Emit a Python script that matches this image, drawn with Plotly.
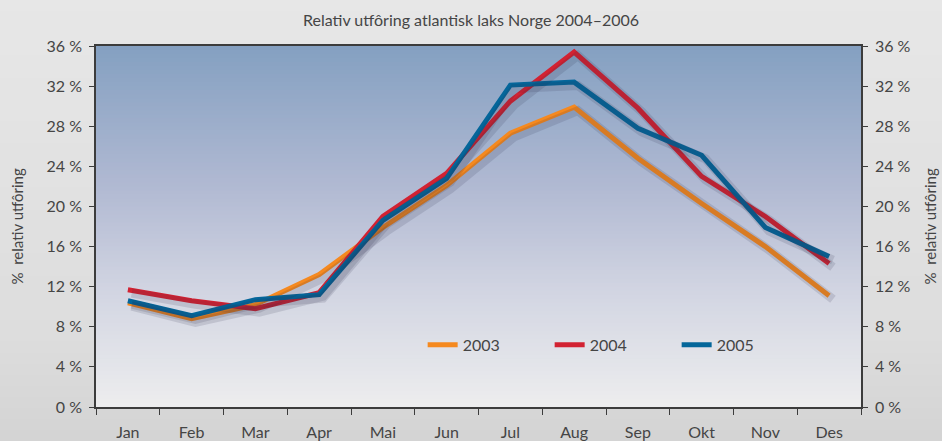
import plotly.graph_objects as go

months = ["Jan", "Feb", "Mar", "Apr", "Mai", "Jun", "Jul", "Aug", "Sep", "Okt", "Nov", "Des"]
y2003 = [10.4, 8.8, 10.2, 13.2, 17.9, 22.1, 27.3, 29.9, 24.8, 20.3, 16.0, 11.1]
y2004 = [11.7, 10.6, 9.8, 11.4, 19.0, 23.3, 30.5, 35.4, 29.8, 23.0, 19.0, 14.3]
y2005 = [10.6, 9.1, 10.7, 11.2, 18.6, 22.8, 32.1, 32.4, 27.8, 25.1, 17.9, 15.0]
series = [("2003", y2003, "#f5891f"), ("2004", y2004, "#d22232"), ("2005", y2005, "#04669a")]
yticks = [0, 4, 8, 12, 16, 20, 24, 28, 32, 36]
ytext = [f"{v} %" for v in yticks]
axis_title = "%  relativ utfôring"

FONT = "Lato"
TXT = "#454545"
AX = "#3c3c3c"

W, H = 942, 441
L, R, T, B = 96, 81, 46, 34
PW, PH = W - L - R, H - T - B

fig = go.Figure()

# soft drop shadows (same data on a slightly shifted hidden axis pair)
for name, vals, col in series:
    fig.add_trace(go.Scatter(x=months, y=vals, mode="lines", xaxis="x3", yaxis="y3",
                             line=dict(color="rgba(40,45,70,0.14)", width=9),
                             showlegend=False, hoverinfo="skip"))
for name, vals, col in series:
    fig.add_trace(go.Scatter(x=months, y=vals, mode="lines", name=name,
                             line=dict(color=col, width=5)))

# make sure the right axis is drawn
fig.add_trace(go.Scatter(x=months, y=y2003, yaxis="y2", mode="lines",
                         line=dict(width=0, color="rgba(0,0,0,0)"), showlegend=False, hoverinfo="skip"))

def lerp(c1, c2, t):
    return tuple(round(a + (b - a) * t) for a, b in zip(c1, c2))

def grad(stops, t):
    for (a, ca), (b, cb) in zip(stops[:-1], stops[1:]):
        if a <= t <= b:
            return lerp(ca, cb, (t - a) / (b - a))
    return stops[-1][1]

shapes = []
# paper gradient
paper_stops = [(0.0, (212, 212, 212)), (0.25, (221, 221, 221)), (1.0, (231, 231, 231))]
NP = 40
y_lo, y_hi = -B / PH, 1 + T / PH
for i in range(NP):
    t0, t1 = i / NP, (i + 1) / NP
    c = grad(paper_stops, (t0 + t1) / 2)
    shapes.append(dict(type="rect", xref="paper", yref="paper", x0=-L / PW, x1=1 + R / PW,
                       y0=y_lo + (y_hi - y_lo) * t0, y1=y_lo + (y_hi - y_lo) * t1 + 0.003,
                       fillcolor="rgb(%d,%d,%d)" % c, line=dict(width=0), layer="below"))

# plot area gradient
plot_stops = [(0.0, (237, 237, 238)), (0.3, (212, 215, 227)), (0.6, (178, 186, 211)), (1.0, (132, 160, 193))]
N = 90
for i in range(N):
    t0, t1 = i / N, (i + 1) / N
    c = grad(plot_stops, (t0 + t1) / 2)
    shapes.append(dict(type="rect", xref="paper", yref="paper", x0=0, x1=1, y0=t0, y1=min(1, t1 + 0.002),
                       fillcolor="rgb(%d,%d,%d)" % c, line=dict(width=0), layer="below"))

fig.update_layout(shapes=shapes)

yax = dict(range=[0, 36], tickmode="array", tickvals=yticks, ticktext=ytext, showgrid=False, zeroline=False,
           showline=True, linecolor=AX, linewidth=1.5, automargin=False,
           ticks="outside", ticklen=5, tickcolor=AX,
           tickfont=dict(family=FONT, size=16, color=TXT), ticklabelstandoff=4)

fig.update_layout(
    width=W, height=H,
    margin=dict(l=L, r=R, t=T, b=B, autoexpand=False),
    paper_bgcolor="#e0e0e0",
    plot_bgcolor="rgba(0,0,0,0)",
    font=dict(family=FONT, size=16, color=TXT),
    title=dict(text="Relativ utfôring atlantisk laks Norge 2004–2006", x=0.5, xanchor="center",
               y=1 - 20 / H, yanchor="middle", font=dict(family=FONT, size=16, color=TXT)),
    xaxis=dict(type="category", range=[-0.5, 11.5], showgrid=False, zeroline=False,
               showline=True, linecolor=AX, linewidth=1.5, mirror=True, automargin=False,
               ticks="outside", ticklen=6, tickcolor=AX, tickson="boundaries",
               tickfont=dict(family=FONT, size=16, color=TXT), ticklabelstandoff=10),
    yaxis=yax,
    yaxis2=dict(yax, overlaying="y", side="right", anchor="x"),
    xaxis3=dict(type="category", range=[-0.56, 11.44], overlaying="x", anchor="y3", visible=False,
                categoryorder="array", categoryarray=months),
    yaxis3=dict(range=[0.35, 36.35], overlaying="y", anchor="x3", visible=False),
    legend=dict(orientation="h", x=0.427, y=0.172, xanchor="left", yanchor="middle",
                bgcolor="rgba(0,0,0,0)", entrywidth=82, entrywidthmode="pixels",
                font=dict(family=FONT, size=16, color=TXT)),
    showlegend=True,
    annotations=[
        dict(text=axis_title, xref="paper", yref="paper", x=(16 - L) / PW, y=0.5, textangle=-90,
             showarrow=False, xanchor="center", yanchor="middle", font=dict(family=FONT, size=15, color=TXT)),
        dict(text=axis_title, xref="paper", yref="paper", x=(929 - L) / PW, y=0.5, textangle=-90,
             showarrow=False, xanchor="center", yanchor="middle", font=dict(family=FONT, size=15, color=TXT)),
    ],
)

fig.write_html("out.html", config={"displayModeBar": False},
               post_script="document.body.style.margin='0';document.body.style.overflow='hidden';")
